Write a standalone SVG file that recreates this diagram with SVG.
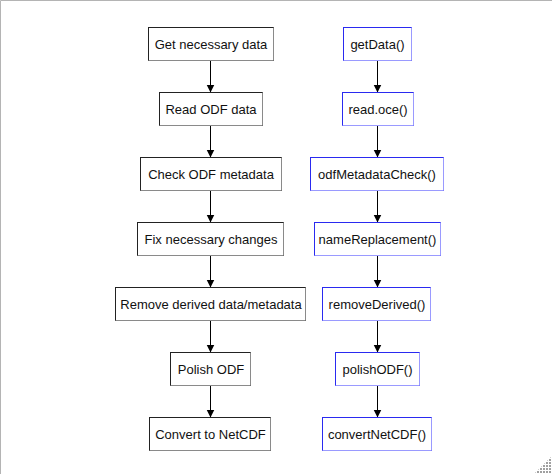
<svg xmlns="http://www.w3.org/2000/svg" width="552" height="474" viewBox="0 0 552 474">
  <defs>
    <style>
      .box { fill: #ffffff; stroke: #222222; stroke-width: 1; }
      .box-sh { fill: none; stroke: #8a8a8a; stroke-width: 1; }
      .fn { fill: #ffffff; stroke: #2a2af0; stroke-width: 1; }
      .fn-sh { fill: none; stroke: #9a9aff; stroke-width: 1; }
      .lbl { font-family: "Liberation Sans", Arial, sans-serif; font-size: 13px; fill: #111111; text-anchor: middle; }
      .edge { stroke: #000000; stroke-width: 1; fill: none; marker-end: url(#arrow); }
    </style>
    <marker id="arrow" markerUnits="userSpaceOnUse" markerWidth="10" markerHeight="10" refX="8" refY="4.5" orient="auto">
      <path d="M0,0.5 L8,4.5 L0,8.5 Z" fill="#000000"/>
    </marker>
    <pattern id="grip" x="0" y="0" width="3" height="3" patternUnits="userSpaceOnUse">
      <rect x="0" y="0" width="2" height="2" fill="#a0a0a0"/>
    </pattern>
  </defs>

  <rect x="0" y="0" width="552" height="474" fill="#ffffff"/>
  <path d="M0.5,474 L0.5,0.5 L552,0.5" fill="none" stroke="#b4b4b4" stroke-width="1"/>
  <polygon points="534,474 552,474 552,456" fill="url(#grip)"/>

  <g id="connectors">
    <line class="edge" x1="210.5" y1="60.5" x2="210.5" y2="92.5"/>
    <line class="edge" x1="210.5" y1="125.5" x2="210.5" y2="157.5"/>
    <line class="edge" x1="210.5" y1="190.5" x2="210.5" y2="222.5"/>
    <line class="edge" x1="210.5" y1="255.5" x2="210.5" y2="287.5"/>
    <line class="edge" x1="210.5" y1="320.5" x2="210.5" y2="352.5"/>
    <line class="edge" x1="210.5" y1="385.5" x2="210.5" y2="417.5"/>
    <line class="edge" x1="377.5" y1="60.5" x2="377.5" y2="92.5"/>
    <line class="edge" x1="377.5" y1="125.5" x2="377.5" y2="157.5"/>
    <line class="edge" x1="377.5" y1="190.5" x2="377.5" y2="222.5"/>
    <line class="edge" x1="377.5" y1="255.5" x2="377.5" y2="287.5"/>
    <line class="edge" x1="377.5" y1="320.5" x2="377.5" y2="352.5"/>
    <line class="edge" x1="377.5" y1="385.5" x2="377.5" y2="417.5"/>
  </g>

  <g id="get-necessary-data">
    <rect class="box" x="148.5" y="27.5" width="125" height="33"/>
    <path class="box-sh" d="M273.5,27.5 V60.5 H148.5"/>
    <text class="lbl" x="211" y="48.5">Get necessary data</text>
  </g>
  <g id="read-odf-data">
    <rect class="box" x="159.5" y="92.5" width="103" height="33"/>
    <path class="box-sh" d="M262.5,92.5 V125.5 H159.5"/>
    <text class="lbl" x="211" y="113.5">Read ODF data</text>
  </g>
  <g id="check-odf-metadata">
    <rect class="box" x="140.5" y="157.5" width="141" height="33"/>
    <path class="box-sh" d="M281.5,157.5 V190.5 H140.5"/>
    <text class="lbl" x="211" y="178.5">Check ODF metadata</text>
  </g>
  <g id="fix-necessary-changes">
    <rect class="box" x="137.5" y="222.5" width="146" height="33"/>
    <path class="box-sh" d="M283.5,222.5 V255.5 H137.5"/>
    <text class="lbl" x="211" y="243.5">Fix necessary changes</text>
  </g>
  <g id="remove-derived">
    <rect class="box" x="115.5" y="287.5" width="190" height="33"/>
    <path class="box-sh" d="M305.5,287.5 V320.5 H115.5"/>
    <text class="lbl" x="211" y="308.5">Remove derived data/metadata</text>
  </g>
  <g id="polish-odf">
    <rect class="box" x="170.5" y="352.5" width="80" height="33"/>
    <path class="box-sh" d="M250.5,352.5 V385.5 H170.5"/>
    <text class="lbl" x="211" y="373.5">Polish ODF</text>
  </g>
  <g id="convert-to-netcdf">
    <rect class="box" x="149.5" y="417.5" width="121" height="33"/>
    <path class="box-sh" d="M270.5,417.5 V450.5 H149.5"/>
    <text class="lbl" x="210.5" y="438.5">Convert to NetCDF</text>
  </g>

  <g id="getData">
    <rect class="fn" x="343.5" y="27.5" width="68" height="33"/>
    <path class="fn-sh" d="M411.5,27.5 V60.5 H343.5"/>
    <text class="lbl" x="377.5" y="48.5">getData()</text>
  </g>
  <g id="read-oce">
    <rect class="fn" x="342.5" y="92.5" width="71" height="33"/>
    <path class="fn-sh" d="M413.5,92.5 V125.5 H342.5"/>
    <text class="lbl" x="378" y="113.5">read.oce()</text>
  </g>
  <g id="odfMetadataCheck">
    <rect class="fn" x="310.5" y="157.5" width="133" height="33"/>
    <path class="fn-sh" d="M443.5,157.5 V190.5 H310.5"/>
    <text class="lbl" x="377" y="178.5">odfMetadataCheck()</text>
  </g>
  <g id="nameReplacement">
    <rect class="fn" x="314.5" y="222.5" width="126" height="33"/>
    <path class="fn-sh" d="M440.5,222.5 V255.5 H314.5"/>
    <text class="lbl" x="377.5" y="243.5">nameReplacement()</text>
  </g>
  <g id="removeDerived">
    <rect class="fn" x="322.5" y="287.5" width="108" height="33"/>
    <path class="fn-sh" d="M430.5,287.5 V320.5 H322.5"/>
    <text class="lbl" x="377" y="308.5">removeDerived()</text>
  </g>
  <g id="polishODF">
    <rect class="fn" x="335.5" y="352.5" width="84" height="33"/>
    <path class="fn-sh" d="M419.5,352.5 V385.5 H335.5"/>
    <text class="lbl" x="377.5" y="373.5">polishODF()</text>
  </g>
  <g id="convertNetCDF">
    <rect class="fn" x="322.5" y="417.5" width="109" height="33"/>
    <path class="fn-sh" d="M431.5,417.5 V450.5 H322.5"/>
    <text class="lbl" x="377" y="438.5">convertNetCDF()</text>
  </g>
</svg>
